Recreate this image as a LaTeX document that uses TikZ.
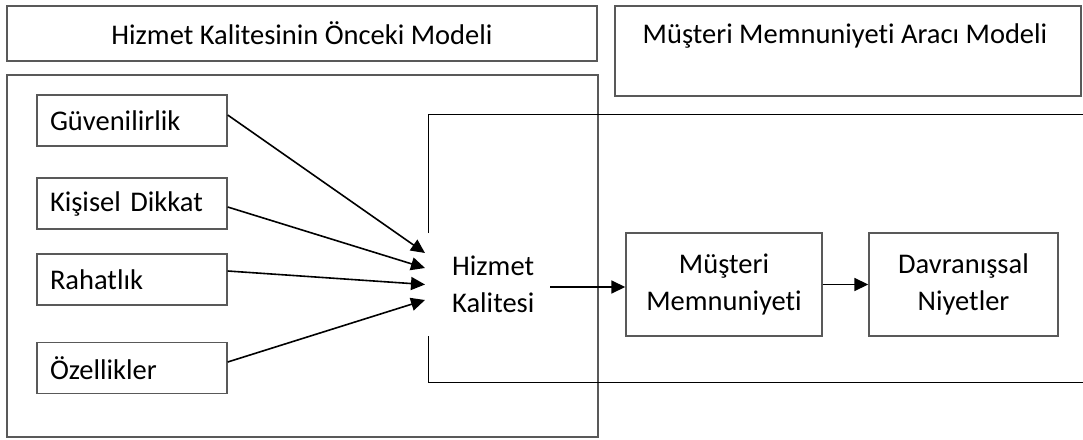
\documentclass[tikz,border=0pt]{standalone}
\usepackage{fontspec}
\setmainfont{Carlito}[Ligatures={NoCommon}]
\usetikzlibrary{arrows.meta}
\definecolor{boxgray}{HTML}{595959}
\tikzset{
  box/.style={draw=boxgray, line width=1.4pt, rectangle, inner sep=0pt, font=\fontsize{28.5}{37}\selectfont, align=center},
  inbox/.style={box, inner xsep=13pt, text width=164pt, align=left, minimum height=51pt},
  txt/.style={inner sep=0pt, font=\fontsize{28.5}{37}\selectfont},
  arr/.style={draw=black, line width=1.6pt, -{Triangle[length=14pt,width=13pt]}},
  frame/.style={draw=black, line width=1pt}
}
\begin{document}
\begin{tikzpicture}[x=1pt,y=-1pt]
\useasboundingbox (0,0) rectangle (1083,439);
% headers
\node[box, minimum width=590pt, minimum height=55pt] (topL) at (302,33.5) {Hizmet Kalitesinin Önceki Modeli};
\node[box, minimum width=466pt, minimum height=90pt] (topR) at (848,51) {};
\node[txt] (topRt) at (845,36) {Müşteri Memnuniyeti Aracı Modeli};
% big left frame
\node[box, minimum width=591pt, minimum height=362pt] (big) at (302.5,256) {};
% bracket frame
\draw[frame] (428,233) -- (428,114) -- (1083,114);
\draw[frame] (428,336) -- (428,382) -- (1083,382);
% input boxes
\node[inbox] (g) at (132,120.5) {Güvenilirlik};
\node[inbox] (k) at (132,203.5) {Kişisel Dikkat};
\node[inbox] (r) at (132,279.5) {Rahatlık};
\node[inbox] (o) at (132,368) {Özellikler};
% middle
\node[txt, align=left, anchor=west] (hk) at (452,284.5) {Hizmet\\Kalitesi};
\node[box, minimum width=196pt, minimum height=103pt] (mm) at (724,284.5) {Müşteri\\Memnuniyeti};
\node[box, minimum width=189pt, minimum height=103pt] (dn) at (963.5,284.5) {Davranışsal\\Niyetler};
\coordinate (hkout) at (550,287);
% arrows
\draw[arr] ([yshift=5.5pt]g.east) -- ([xshift=-27pt,yshift=31.5pt]hk.west);
\draw[arr] ([yshift=-3.5pt]k.east) -- ([xshift=-27pt,yshift=16.5pt]hk.west);
\draw[arr] ([yshift=8.5pt]r.east) -- ([xshift=-27pt,yshift=0pt]hk.west);
\draw[arr] ([yshift=6pt]o.east) -- ([xshift=-27pt,yshift=-15.5pt]hk.west);
\draw[arr] (hkout) -- (mm.west |- hkout);
\draw[arr] (mm.east) -- (dn.west);
\end{tikzpicture}
\end{document}
